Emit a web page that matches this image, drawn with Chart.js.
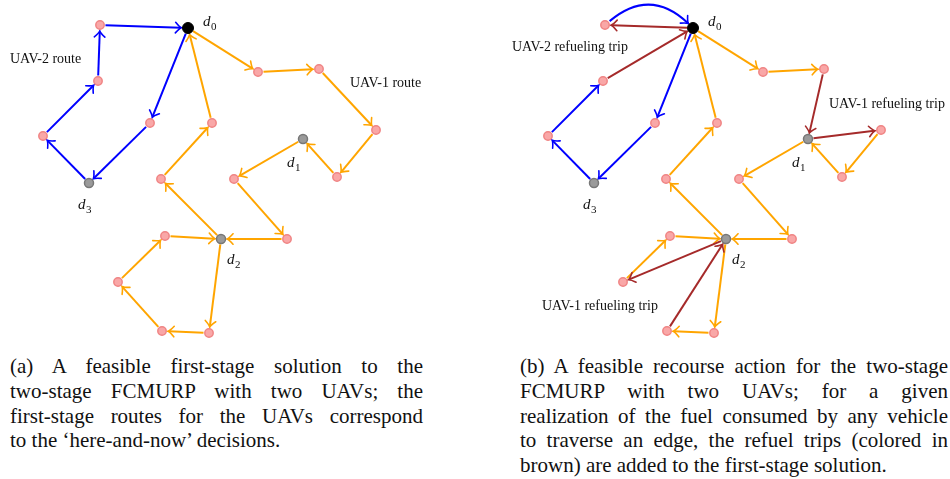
<!DOCTYPE html>
<html lang="en">
<head>
    <meta charset="UTF-8">
    <title>FCMURP routes</title>
    <style>
        body { margin: 0; background: #fff; width: 950px; height: 479px; position: relative; overflow: hidden; }
        .panel { position: absolute; top: 0; height: 345px; }
        #panelA { left: 0; width: 475px; }
        #panelB { left: 505px; width: 445px; }
        .caption { position: absolute; top: 354px; font-family: "Liberation Serif", serif; font-size: 21px; line-height: 24.8px; color: #111; }
        .caption div { white-space: nowrap; text-align: justify; text-align-last: justify; }
        .caption div.last { text-align-last: left; }
        #capA { left: 10px; width: 413px; }
        #capB { left: 520px; width: 428px; }
    </style>
    <script src="https://cdn.jsdelivr.net/npm/chart.js"></script>
</head>
<body>

    <div class="panel" id="panelA"><canvas id="chartA"></canvas></div>
    <div class="panel" id="panelB"><canvas id="chartB"></canvas></div>

    <div class="caption" id="capA">
        <div>(a) A feasible first-stage solution to the</div>
        <div>two-stage FCMURP with two UAVs; the</div>
        <div>first-stage routes for the UAVs correspond</div>
        <div class="last">to the ‘here-and-now’ decisions.</div>
    </div>
    <div class="caption" id="capB">
        <div>(b) A feasible recourse action for the two-stage</div>
        <div>FCMURP with two UAVs; for a given</div>
        <div>realization of the fuel consumed by any vehicle</div>
        <div>to traverse an edge, the refuel trips (colored in</div>
        <div class="last">brown) are added to the first-stage solution.</div>
    </div>

    <script>
        // node positions (same layout in both panels)
        const depotNames = ['d0', 'd1', 'd2', 'd3'];
        const depotX = [188, 303, 221, 89];
        const depotY = [28, 139, 239, 183];

        const targetNames = ['c1', 'c2', 'c3', 'c4', 'c5', 'c6', 'c7', 'c8', 'c9', 'c10', 'c11', 'c12', 'c13', 'c14', 'c15', 'c16'];
        const targetX = [100, 98, 43, 150, 258, 319, 376, 337, 234, 287, 165, 118, 162, 209, 161, 212];
        const targetY = [25, 81, 136, 123, 72, 69, 130, 177, 179, 239, 236, 282, 331, 333, 179, 123];

        // (a) first-stage routes
        const uav1Route = ['d0', 'c5', 'c6', 'c7', 'c8', 'd1', 'c9', 'c10', 'd2', 'c14', 'c13', 'c12', 'c11', 'd2', 'c15', 'c16', 'd0'];
        const uav2Route = ['d0', 'c4', 'd3', 'c3', 'c2', 'c1', 'd0'];

        // (b) recourse solution, edges as [from, to]
        const uav1Kept = [['d0', 'c5'], ['c5', 'c6'], ['c7', 'c8'], ['c8', 'd1'], ['d1', 'c9'], ['c9', 'c10'], ['c10', 'd2'],
                          ['d2', 'c14'], ['c14', 'c13'], ['c12', 'c11'], ['c11', 'd2'], ['d2', 'c15'], ['c15', 'c16'], ['c16', 'd0']];
        const uav2Kept = [['d0', 'c4'], ['c4', 'd3'], ['d3', 'c3'], ['c3', 'c2']];
        const uav2Curved = [['c1', 'd0']];
        const refuelTrips = [['c2', 'd0'], ['d0', 'c1'], ['c6', 'd1'], ['d1', 'c7'], ['c13', 'd2'], ['d2', 'c12']];

        const ORANGE = '#ffa500';
        const BLUE = '#0000ff';
        const BROWN = '#a52a2a';

        function routeToEdges(route) {
            const out = [];
            for (let i = 0; i < route.length - 1; i++) out.push([route[i], route[i + 1]]);
            return out;
        }

        // lookup node position by name
        function nodePos(name) {
            let i = depotNames.indexOf(name);
            if (i >= 0) return { x: depotX[i], y: depotY[i], r: name === 'd0' ? 5.5 : 5 };
            i = targetNames.indexOf(name);
            return { x: targetX[i], y: targetY[i], r: 5 };
        }

        function drawArrowHead(ctx, tx, ty, ang, color) {
            const len = 8, spread = 0.72;
            ctx.save();
            ctx.strokeStyle = color;
            ctx.lineWidth = 1.6;
            ctx.lineCap = 'round';
            ctx.beginPath();
            ctx.moveTo(tx - len * Math.cos(ang - spread), ty - len * Math.sin(ang - spread));
            ctx.quadraticCurveTo(tx - 2 * Math.cos(ang - 0.3), ty - 2 * Math.sin(ang - 0.3), tx, ty);
            ctx.quadraticCurveTo(tx - 2 * Math.cos(ang + 0.3), ty - 2 * Math.sin(ang + 0.3), tx - len * Math.cos(ang + spread), ty - len * Math.sin(ang + spread));
            ctx.stroke();
            ctx.restore();
        }

        // plugin that draws the directed edges and the labels
        const graphPlugin = {
            id: 'graph',
            beforeDatasetsDraw(chart, args, opts) {
                const ctx = chart.ctx;
                const xs = chart.scales.x, ys = chart.scales.y;
                const px = p => ({ x: xs.getPixelForValue(p.x), y: ys.getPixelForValue(p.y), r: p.r });
                ctx.save();
                ctx.lineWidth = 2;
                (opts.edges || []).forEach(e => {
                    const a = px(nodePos(e.from)), b = px(nodePos(e.to));
                    ctx.strokeStyle = e.color;
                    if (e.bend) {
                        const mx = (a.x + b.x) / 2, my = (a.y + b.y) / 2;
                        const dx = b.x - a.x, dy = b.y - a.y, L = Math.hypot(dx, dy);
                        const cx = mx + dy / L * e.bend * L, cy = my - dx / L * e.bend * L;
                        const a0 = Math.atan2(cy - a.y, cx - a.x);
                        const sx = a.x + (a.r + 1) * Math.cos(a0), sy = a.y + (a.r + 1) * Math.sin(a0);
                        const a1 = Math.atan2(b.y - cy, b.x - cx);
                        const ex = b.x - (b.r + 1) * Math.cos(a1), ey = b.y - (b.r + 1) * Math.sin(a1);
                        ctx.beginPath();
                        ctx.moveTo(sx, sy);
                        ctx.quadraticCurveTo(cx, cy, ex, ey);
                        ctx.stroke();
                        drawArrowHead(ctx, ex, ey, a1, e.color);
                    } else {
                        const ang = Math.atan2(b.y - a.y, b.x - a.x);
                        const sx = a.x + (a.r + 0.5) * Math.cos(ang), sy = a.y + (a.r + 0.5) * Math.sin(ang);
                        const ex = b.x - (b.r + 1) * Math.cos(ang), ey = b.y - (b.r + 1) * Math.sin(ang);
                        ctx.beginPath();
                        ctx.moveTo(sx, sy);
                        ctx.lineTo(ex - 0.8 * Math.cos(ang), ey - 0.8 * Math.sin(ang));
                        ctx.stroke();
                        drawArrowHead(ctx, ex, ey, ang, e.color);
                    }
                });
                ctx.restore();
            },
            afterDatasetsDraw(chart, args, opts) {
                const ctx = chart.ctx;
                const xs = chart.scales.x, ys = chart.scales.y;
                ctx.save();
                ctx.fillStyle = '#111';
                ctx.textBaseline = 'alphabetic';
                // depot labels d with subscript
                (opts.depotLabels || []).forEach(l => {
                    const x = xs.getPixelForValue(l.x), y = ys.getPixelForValue(l.y);
                    ctx.font = 'italic 15px "Liberation Serif", serif';
                    ctx.fillText('d', x, y);
                    const w = ctx.measureText('d').width;
                    ctx.font = '11px "Liberation Serif", serif';
                    ctx.fillText(l.sub, x + w + 0.5, y + 4);
                });
                ctx.font = '14px "Liberation Serif", serif';
                (opts.texts || []).forEach(t => {
                    ctx.fillText(t.text, xs.getPixelForValue(t.x), ys.getPixelForValue(t.y));
                });
                ctx.restore();
            }
        };

        const depotLabels = [
            { sub: '0', x: 203, y: 26 },
            { sub: '1', x: 287, y: 167 },
            { sub: '2', x: 227, y: 264 },
            { sub: '3', x: 78, y: 209 }
        ];

        function makeChart(id, xMax, edges, texts) {
            const ctx = document.getElementById(id).getContext('2d');
            return new Chart(ctx, {
                type: 'scatter',
                data: {
                    datasets: [
                        {
                            label: 'targets',
                            data: targetX.map((x, i) => ({ x: x, y: targetY[i] })),
                            pointRadius: 4.2,
                            pointBackgroundColor: '#f9a7a7',
                            pointBorderColor: '#f08585',
                            pointBorderWidth: 1.5
                        },
                        {
                            label: 'depots',
                            data: depotX.slice(1).map((x, i) => ({ x: x, y: depotY[i + 1] })),
                            pointRadius: 4.5,
                            pointBackgroundColor: '#9a9a9a',
                            pointBorderColor: '#777',
                            pointBorderWidth: 1.5
                        },
                        {
                            label: 'base',
                            data: [{ x: depotX[0], y: depotY[0] }],
                            pointRadius: 5.5,
                            pointBackgroundColor: '#000',
                            pointBorderColor: '#000',
                            pointBorderWidth: 1
                        }
                    ]
                },
                options: {
                    responsive: true,
                    maintainAspectRatio: false,
                    animation: false,
                    layout: { padding: 0, autoPadding: false },
                    scales: {
                        x: { type: 'linear', min: 0, max: xMax, display: false },
                        y: { type: 'linear', min: 0, max: 345, reverse: true, display: false }
                    },
                    plugins: {
                        legend: { display: false },
                        tooltip: { enabled: false },
                        graph: { edges: edges, texts: texts, depotLabels: depotLabels }
                    }
                },
                plugins: [graphPlugin]
            });
        }

        const toEdge = color => e => ({ from: e[0], to: e[1], color: color });

        const edgesA = routeToEdges(uav1Route).map(toEdge(ORANGE))
            .concat(routeToEdges(uav2Route).map(toEdge(BLUE)));

        const edgesB = uav1Kept.map(toEdge(ORANGE))
            .concat(uav2Kept.map(toEdge(BLUE)))
            .concat(uav2Curved.map(e => ({ from: e[0], to: e[1], color: BLUE, bend: 0.45 })))
            .concat(refuelTrips.map(toEdge(BROWN)));

        makeChart('chartA', 475, edgesA, [
            { text: 'UAV-2 route', x: 10, y: 63 },
            { text: 'UAV-1 route', x: 350, y: 87 }
        ]);

        makeChart('chartB', 445, edgesB, [
            { text: 'UAV-2 refueling trip', x: 7, y: 51 },
            { text: 'UAV-1 refueling trip', x: 324, y: 108 },
            { text: 'UAV-1 refueling trip', x: 37, y: 310 }
        ]);
    </script>

</body>
</html>
